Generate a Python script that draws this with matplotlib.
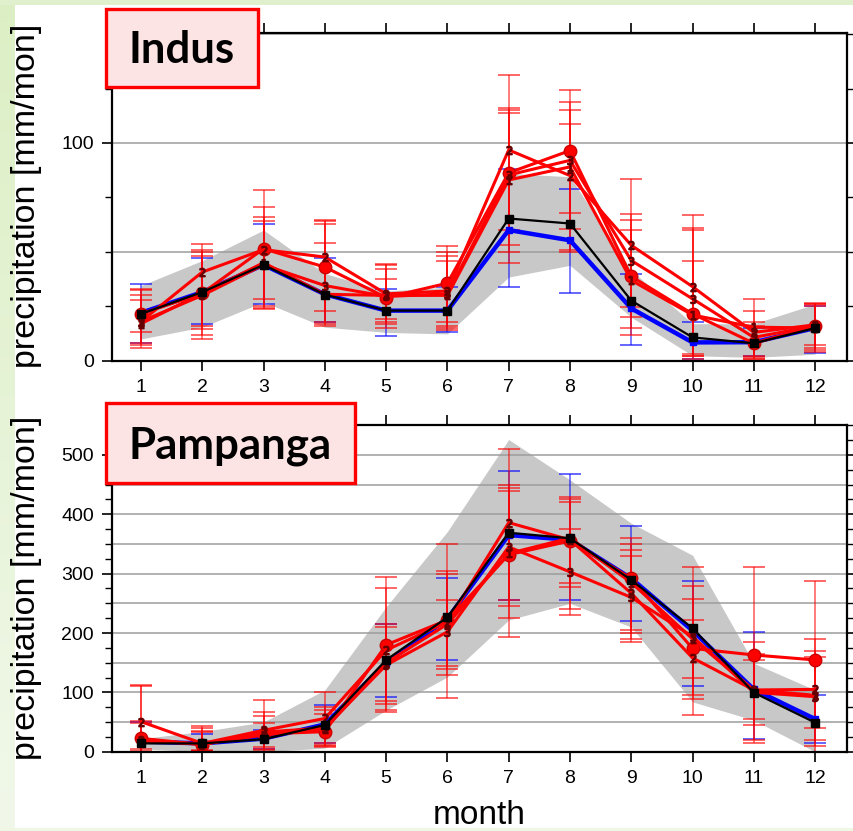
import numpy as np
import matplotlib
matplotlib.use('Agg')
import matplotlib.pyplot as plt
from matplotlib.patches import Rectangle
from matplotlib.ticker import FixedLocator, MultipleLocator

plt.rcParams['font.family'] = ['Liberation Sans', 'DejaVu Sans']

months = list(range(1, 13))

# ---------------- Indus ----------------
indus_band_lo = [10, 15.4, 27, 15.4, 13, 12.3, 38.4, 43.8, 20, 2.3, 1.5, 3]
indus_band_hi = [34.5, 46, 60, 40, 32, 33.8, 86, 84.5, 41.5, 17, 17, 26]
indus_black = [21.5, 31.5, 44, 30.4, 23, 23, 65.3, 63, 27.6, 10.7, 8, 15]
indus_blue = [22, 31.5, 44, 30.5, 23, 23, 60, 55.3, 24, 8.4, 8.5, 15]
indus_blue_lo = [8, 17, 26, 17.7, 11.5, 13, 34, 31, 7, 0.8, 2.3, 3.5]
indus_blue_hi = [35, 47, 63, 47, 33, 34, 88, 79, 40, 18, 15, 25]
indus_red1 = [21.5, 31, 51.4, 43, 29, 35.6, 86.3, 96.5, 38.7, 21.5, 8, 16]
indus_red2 = [18, 40.7, 51, 47.6, 30.7, 32, 96.8, 85, 53, 34, 13, 16.5]
indus_red3 = [18, 30, 44, 34.5, 29.5, 30.7, 85.3, 92, 46, 28.4, 10.7, 16]
indus_red4 = [17, 31, 45, 30.5, 30, 30, 83, 89, 36.9, 21, 15.4, 15]
indus_red1_hi = [32.6, 53.4, 78.6, 64.5, 44.5, 52.5, 131, 124.4, 83.3, 67, 28.4, 26.4]
indus_red2_hi = [30, 50, 70.6, 54, 42.2, 50, 116, 119, 67.6, 46, 22.7, 26]
indus_red3_hi = [28, 48, 66, 64, 37.6, 46, 113.6, 115, 64.8, 61, 17.7, 25]
indus_red4_hi = [33, 51, 64, 63, 44, 48, 115, 108.8, 60, 60, 16, 26]
indus_red1_lo = [13, 10, 28.5, 22.6, 19, 17.7, 60, 67.9, 24.6, 2.3, 0.8, 7]
indus_red2_lo = [6, 14.7, 23.8, 16.1, 17, 16, 53, 60.7, 12, 1, 1.5, 5]
indus_red3_lo = [7, 16, 24, 17, 15, 14, 50, 51, 20, 3, 2, 4]
indus_red4_lo = [8, 12, 25, 18, 18, 15, 45, 50, 15, 2, 1, 6]

# ---------------- Pampanga ----------------
pamp_band_lo = [5, 0, 0, 6, 70, 126, 222, 250, 210, 84, 53, 0]
pamp_band_hi = [22, 34, 50, 104, 244, 371, 526, 458, 385, 331, 149, 104]
pamp_black = [14, 14, 21, 45, 154.6, 226.5, 369, 359.6, 289.4, 208, 99.5, 49]
pamp_blue = [17, 14, 22, 46, 150, 224, 365, 357, 292, 204, 105, 55]
pamp_blue_lo = [0, 2, 5, 15, 92, 155, 255, 255, 220, 110, 22, 15]
pamp_blue_hi = [50, 30, 37, 78, 215, 292, 473, 468, 380, 288, 201, 95]
pamp_red1 = [22.5, 12, 30, 33.7, 180, 222, 332, 355, 292, 174, 163, 154.6]
pamp_red2 = [50.6, 14, 36, 56, 171, 219, 386, 357, 267, 158, 104, 105]
pamp_red3 = [20, 12, 33, 40, 146, 202, 345, 303, 260, 194, 100, 92.7]
pamp_red4 = [18, 13, 28, 38, 150, 215, 334, 360, 285, 190, 104, 95]
pamp_red1_hi = [113, 43, 87, 100, 295, 350, 510, 430, 360, 312, 312, 287]
pamp_red2_hi = [110, 40, 67, 63, 275, 305, 450, 420, 330, 258, 185, 190]
pamp_red3_hi = [52, 35, 60, 75, 210, 255, 440, 375, 350, 222, 165, 170]
pamp_red4_hi = [48, 33, 48, 70, 215, 300, 445, 425, 340, 280, 155, 160]
pamp_red1_lo = [0, 0, 0, 8, 67, 90, 193, 230, 185, 62, 15, 0]
pamp_red2_lo = [0, 2, 5, 12, 80, 130, 225, 278, 205, 88, 20, 10]
pamp_red3_lo = [5, 3, 8, 15, 85, 140, 245, 285, 200, 125, 45, 40]
pamp_red4_lo = [2, 1, 3, 10, 70, 145, 255, 240, 190, 95, 55, 20]

W, H = 854, 831
fig = plt.figure(figsize=(W / 100, H / 100), dpi=100)

# slide-like background (light green margins)
bg = fig.add_axes([0, 0, 1, 1], zorder=-10)
bg.axis('off')
img = np.ones((H, W, 3))
top_c = np.array([0xdc, 0xef, 0xc4]) / 255
bot_c = np.array([0xf1, 0xf8, 0xea]) / 255
t = np.linspace(0, 1, H)[:, None]
img[:, :15, :] = (top_c * (1 - t) + bot_c * t)[:, None, :]
img[:5, :, :] = np.array([0xe0, 0xf0, 0xcc]) / 255
img[-3:, :, :] = np.array([0xee, 0xf7, 0xe4]) / 255
bg.imshow(img, aspect='auto', extent=[0, 1, 0, 1], interpolation='nearest')
bg.set_xlim(0, 1)
bg.set_ylim(0, 1)


def px_rect(x0, y0, x1, y1):
    return [x0 / W, 1 - y1 / H, (x1 - x0) / W, (y1 - y0) / H]


RED_EB = (1, 0, 0, 0.6)
BLUE_EB = (0, 0, 1, 0.6)


def panel(rect, ytop, major, band_lo, band_hi, black, blue, blue_lo, blue_hi,
          reds, reds_lo, reds_hi):
    ax = fig.add_axes(rect)
    ax.set_xlim(0.527, 12.52)
    ax.set_ylim(0, ytop)
    ax.fill_between(months, band_lo, band_hi, color='#c8c8c8', lw=0, zorder=1)
    for g in np.arange(50, ytop, 50):
        ax.axhline(g, color='#9c9c9c', lw=1.1, zorder=1.5)

    m = np.array(months)
    b = np.array(blue)
    ax.errorbar(m, b, yerr=[b - np.array(blue_lo), np.array(blue_hi) - b], fmt='none',
                ecolor=BLUE_EB, elinewidth=1.2, capsize=8, capthick=1.4, zorder=2)
    for r, lo, hi in zip(reds, reds_lo, reds_hi):
        r = np.array(r)
        ax.errorbar(m, r, yerr=[r - np.array(lo), np.array(hi) - r], fmt='none',
                    ecolor=RED_EB, elinewidth=1.2, capsize=8, capthick=1.4, zorder=2.5)

    ax.plot(m, b, color='#0000ff', lw=3.2, marker='s', ms=5, mfc='#0000ff',
            mec='#0000ff', zorder=3)
    marks = ['o', '$2$', '$3$', '$1$']
    for i, r in enumerate(reds):
        if marks[i] == 'o':
            ax.plot(m, r, color='#ff0000', lw=2.2, marker='o', ms=9, mfc='#ff0000',
                    mec='#cc0000', zorder=4)
        else:
            ax.plot(m, r, color='#ff0000', lw=2.2, zorder=4)
            ax.plot(m, r, ls='none', marker=marks[i], ms=6, color='#660000', zorder=4.2)
    ax.plot(m, black, color='black', lw=1.6, marker='s', ms=6, zorder=5)

    ax.set_xticks(months)
    ax.yaxis.set_major_locator(MultipleLocator(major))
    ax.yaxis.set_minor_locator(MultipleLocator(25))
    ax.tick_params(which='major', direction='out', top=True, right=True,
                   length=7, width=1.2, labelsize=14, pad=6)
    ax.tick_params(which='minor', direction='out', left=True, right=True,
                   length=5, width=1.0)
    for s in ax.spines.values():
        s.set_linewidth(1.6)
        s.set_zorder(6)
    return ax


ax1 = panel(px_rect(112, 33, 847, 360.7), 150.5, 100,
            indus_band_lo, indus_band_hi, indus_black, indus_blue,
            indus_blue_lo, indus_blue_hi,
            [indus_red1, indus_red2, indus_red3, indus_red4],
            [indus_red1_lo, indus_red2_lo, indus_red3_lo, indus_red4_lo],
            [indus_red1_hi, indus_red2_hi, indus_red3_hi, indus_red4_hi])
ax2 = panel(px_rect(112, 425, 847, 751.7), 550.5, 100,
            pamp_band_lo, pamp_band_hi, pamp_black, pamp_blue,
            pamp_blue_lo, pamp_blue_hi,
            [pamp_red1, pamp_red2, pamp_red3, pamp_red4],
            [pamp_red1_lo, pamp_red2_lo, pamp_red3_lo, pamp_red4_lo],
            [pamp_red1_hi, pamp_red2_hi, pamp_red3_hi, pamp_red4_hi])

# y labels and x label
fig.text(27 / W, 1 - 196 / H, 'precipitation [mm/mon]', rotation=90,
         fontsize=24.5, ha='center', va='center')
fig.text(27 / W, 1 - 588 / H, 'precipitation [mm/mon]', rotation=90,
         fontsize=24.5, ha='center', va='center')
fig.text(479 / W, 1 - 815 / H, 'month', fontsize=24, ha='center', va='center')

# basin label boxes
for (x0, y0, x1, y1, name, base) in [(106, 9, 258, 87, 'Indus', 63),
                                      (106, 403, 355, 483, 'Pampanga', 459)]:
    r = px_rect(x0, y0, x1, y1)
    fig.add_artist(Rectangle((r[0], r[1]), r[2], r[3], transform=fig.transFigure,
                             facecolor='#fde4e4', edgecolor='#ff0000', lw=2.4,
                             zorder=10))
    fig.text((x0 + x1) / 2 / W, 1 - base / H, name, fontsize=31.5,
             family=['Lato', 'DejaVu Sans'], weight='bold', ha='center',
             va='baseline', zorder=11)

fig.savefig('out.png', dpi=100)
